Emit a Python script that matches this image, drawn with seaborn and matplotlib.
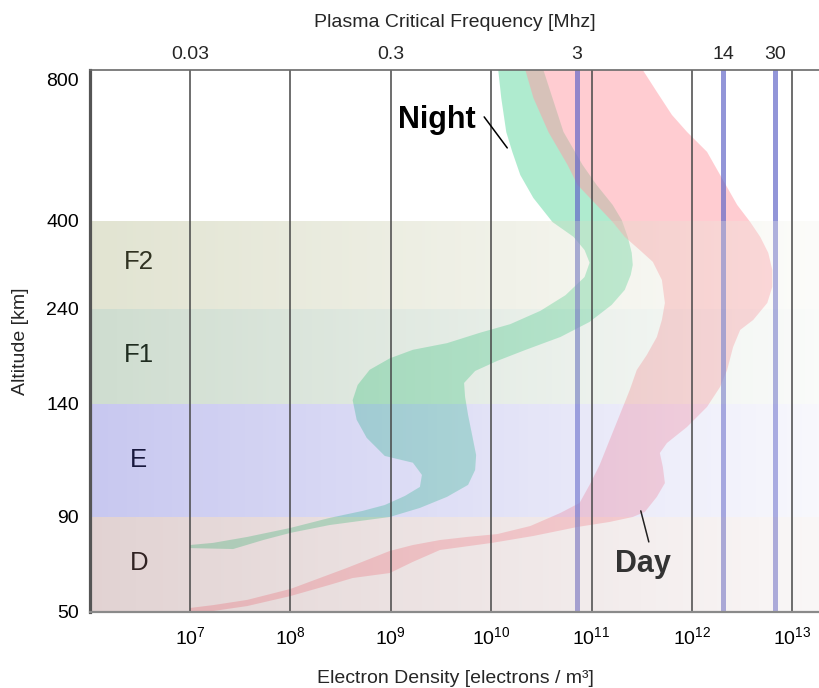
import numpy as np
import matplotlib
matplotlib.use('Agg')
import matplotlib.pyplot as plt
import seaborn as sns
from matplotlib.colors import LinearSegmentedColormap
from matplotlib.ticker import NullLocator

# ---------------- data ----------------
layer_names = ['D', 'E', 'F1', 'F2']
layer_bottom = [50, 90, 140, 240]
layer_top = [90, 140, 240, 400]
layer_label_alt = [70.6, 115, 191.6, 325]
layer_label_logN = 6.49

altitude_ticks = [50, 90, 140, 240, 400, 800]
density_ticks = [1e7, 1e8, 1e9, 1e10, 1e11, 1e12, 1e13]
freq_labels = ['0.03', '0.3', '3', '14', '30']
freq_density = [1e7, 1e9, 7.16e10, 2.04e12, 6.71e12]
radio_band_density = [7.16e10, 2.04e12, 6.71e12]   # 3, 14, 30 MHz

night_logN = [10.07, 10.10, 10.15, 10.21, 10.29, 10.42, 10.61, 10.82, 10.93, 10.98,
              10.93, 10.74, 10.49, 10.19, 9.89, 9.56, 9.22, 8.99, 8.79, 8.67,
              8.62, 8.66, 8.76, 8.94, 9.22, 9.31, 9.29, 9.14, 8.94, 8.72,
              8.39, 8.00, 7.57, 7.23, 7.00,
              7.00, 7.43, 7.73, 8.00, 8.39, 8.99, 9.29, 9.56, 9.77, 9.84,
              9.85, 9.81, 9.77, 9.74, 9.73, 9.84, 10.06, 10.34, 10.69, 10.98,
              11.20, 11.33, 11.39, 11.41, 11.40, 11.36, 11.30, 11.21, 11.05, 10.91,
              10.72, 10.61, 10.52]
night_alt = [828, 749, 652, 596, 530, 465, 398, 371, 347, 324,
             298, 265, 238, 224, 215, 204, 197, 188, 176, 160,
             144, 133, 125, 117, 114, 108.6, 103.3, 99.3, 95.3, 92.7,
             89.6, 85.4, 81.6, 79.1, 78.2,
             76.9, 76.5, 80.3, 83.3, 86.6, 90, 94.0, 98.9, 104.2, 110.8,
             117.4, 126.3, 135.1, 147.4, 162.1, 174.7, 185.3, 196.8, 210.5, 226.3,
             247.3, 274.5, 301.8, 320, 341.8, 370.9, 402.8, 445.4, 502.1, 558.9,
             652.5, 749, 828]

day_logN = [10.34, 10.42, 10.57, 10.76, 10.86, 11.05, 11.21, 11.33, 11.48, 11.61,
            11.70, 11.73, 11.70, 11.65, 11.55, 11.45, 11.38, 11.28, 11.18, 11.08,
            10.98, 10.88, 10.69, 10.39, 10.06, 9.76, 9.49, 9.22, 8.99, 8.56,
            8.00, 7.57, 7.23, 7.00,
            7.00, 7.23, 7.57, 8.00, 8.39, 8.62, 8.99, 9.22, 9.49, 10.01,
            10.42, 10.86, 11.18, 11.41, 11.53, 11.65, 11.73, 11.71, 11.68, 11.75,
            11.95, 12.15, 12.28, 12.35, 12.41, 12.48, 12.61, 12.75, 12.80, 12.80,
            12.76, 12.68, 12.58, 12.45, 12.28, 12.15, 11.95, 11.80, 11.65, 11.51]
day_alt = [828, 749, 652, 559, 502, 445, 398, 371, 347, 325.5,
           292.7, 250.9, 228.4, 210.5, 191.6, 175.8, 154.7, 135.1, 124.1, 113,
           104.2, 96.2, 91.8, 86.2, 82.8, 81.6, 80.3, 78.2, 75.7, 68.5,
           59.7, 55.1, 52.9, 51.7,
           50, 50.4, 52.5, 56.7, 61.4, 64.3, 66.4, 71.1, 76.1, 79.1,
           82, 85.8, 87.9, 90, 92.2, 98.9, 105, 112.1, 118.3, 122.7,
           129.8, 138.7, 157.9, 175.8, 200, 217.9, 228.4, 250.9, 280, 310.9,
           341.8, 370.9, 398, 445.4, 530.5, 595.8, 652.5, 700.7, 766, 828]

# ---------------- style ----------------
sns.set_theme(style='white')
plt.rcParams['font.family'] = ['Liberation Sans', 'DejaVu Sans']
plt.rcParams['mathtext.fontset'] = 'custom'
plt.rcParams['mathtext.rm'] = 'Liberation Sans'
plt.rcParams['mathtext.it'] = 'Liberation Sans:italic'
plt.rcParams['mathtext.bf'] = 'Liberation Sans:bold'

FS = 14
layer_left = {'D': (158, 108, 108), 'E': (72, 72, 205), 'F1': (95, 142, 98), 'F2': (158, 165, 105)}
layer_right = {'D': (238, 228, 228), 'E': (232, 232, 248), 'F1': (238, 242, 238), 'F2': (245, 245, 238)}
OVERLAY_ALPHA = 0.3

fig = plt.figure(figsize=(8.2, 6.88), dpi=100)
ax = fig.add_axes([90 / 820, 76 / 688, 730 / 820, 542 / 688])

# piecewise-linear altitude scale (as in the original figure)
ALT_KNOTS = np.array([0, 50, 90, 140, 240, 400, 800, 1200.0])
POS_KNOTS = np.array([-118.75, 0, 95, 208, 303, 391, 532, 673.0])


def fwd(a):
    return np.interp(a, ALT_KNOTS, POS_KNOTS)


def inv(p):
    return np.interp(p, POS_KNOTS, ALT_KNOTS)


ax.set_xscale('log')
ax.set_yscale('function', functions=(fwd, inv))
XLO, XHI = 6.004, 13.275
ax.set_xlim(10 ** XLO, 10 ** XHI)
ax.set_ylim(50, 828)

# profiles
ax.fill(10 ** np.array(night_logN), night_alt, color='#61D9A1', alpha=0.5, lw=0, zorder=2)
ax.fill(10 ** np.array(day_logN), day_alt, color='#FF9BA5', alpha=0.5, lw=0, zorder=2.1)

# radio band lines
for d in radio_band_density:
    ax.axvline(d, color='#6469C8', alpha=0.7, lw=3.6, zorder=3)

# layer labels (under the overlay)
for name, a in zip(layer_names, layer_label_alt):
    ax.text(10 ** layer_label_logN, a, name, fontsize=18.5, color='black',
            ha='center', va='center', zorder=3.5)

# gradient overlays for the layers
xs = np.logspace(XLO, XHI, 241)
cvals = np.linspace(0, 1, 240).reshape(1, -1)
for name, b, t in zip(layer_names, layer_bottom, layer_top):
    cl = tuple(c / 255 for c in layer_left[name]) + (OVERLAY_ALPHA,)
    cr = tuple(c / 255 for c in layer_right[name]) + (OVERLAY_ALPHA,)
    cmap = LinearSegmentedColormap.from_list('g' + name, [cl, cr])
    ax.pcolormesh(xs, [b, t], cvals, cmap=cmap, shading='flat', zorder=4,
                  antialiased=False, linewidth=0)

# decade lines
for d in density_ticks:
    ax.axvline(d, color='#474747', lw=1.1, zorder=5)

# Night / Day labels
ax.text(10 ** 9.072, 663.8, 'Night', fontsize=22, fontweight='bold', color='black',
        ha='left', va='baseline', zorder=6)
ax.plot([10 ** 9.93, 10 ** 10.16], [695, 607], color='black', lw=1.1, zorder=6)
ax.text(10 ** 11.233, 66.8, 'Day', fontsize=22, fontweight='bold', color='#333333',
        ha='left', va='baseline', zorder=6)
ax.plot([10 ** 11.49, 10 ** 11.57], [92.7, 79.5], color='#222222', lw=1.1, zorder=6)

# axes / ticks
ax.set_xticks(density_ticks)
ax.xaxis.set_minor_locator(NullLocator())
ax.set_yticks(altitude_ticks, labels=[str(a) for a in altitude_ticks])
ax.yaxis.set_minor_locator(NullLocator())
ax.tick_params(length=0, labelsize=FS, colors='black')
ax.tick_params(axis='x', pad=10)
ax.tick_params(axis='y', pad=8)
ax.set_xlabel('Electron Density [electrons / m³]', fontsize=FS, labelpad=16)
ax.set_ylabel('Altitude [km]', fontsize=FS, labelpad=12)

sec = ax.secondary_xaxis('top')
sec.set_xticks(freq_density, labels=freq_labels)
sec.xaxis.set_minor_locator(NullLocator())
sec.tick_params(length=0, labelsize=FS, pad=5)
sec.set_xlabel('Plasma Critical Frequency [Mhz]', fontsize=FS, labelpad=14)
for s in sec.spines.values():
    s.set_visible(False)

sns.despine(ax=ax, top=False, right=True, left=False, bottom=False)
ax.spines['left'].set(linewidth=2.3, color='#555555', zorder=7)
ax.spines['top'].set(linewidth=1.2, color='#6a6a6a', zorder=7)
ax.spines['bottom'].set(linewidth=1.6, color='#8a8a8a', zorder=7)
ax.grid(False)

fig.savefig('out.png', dpi=100)
